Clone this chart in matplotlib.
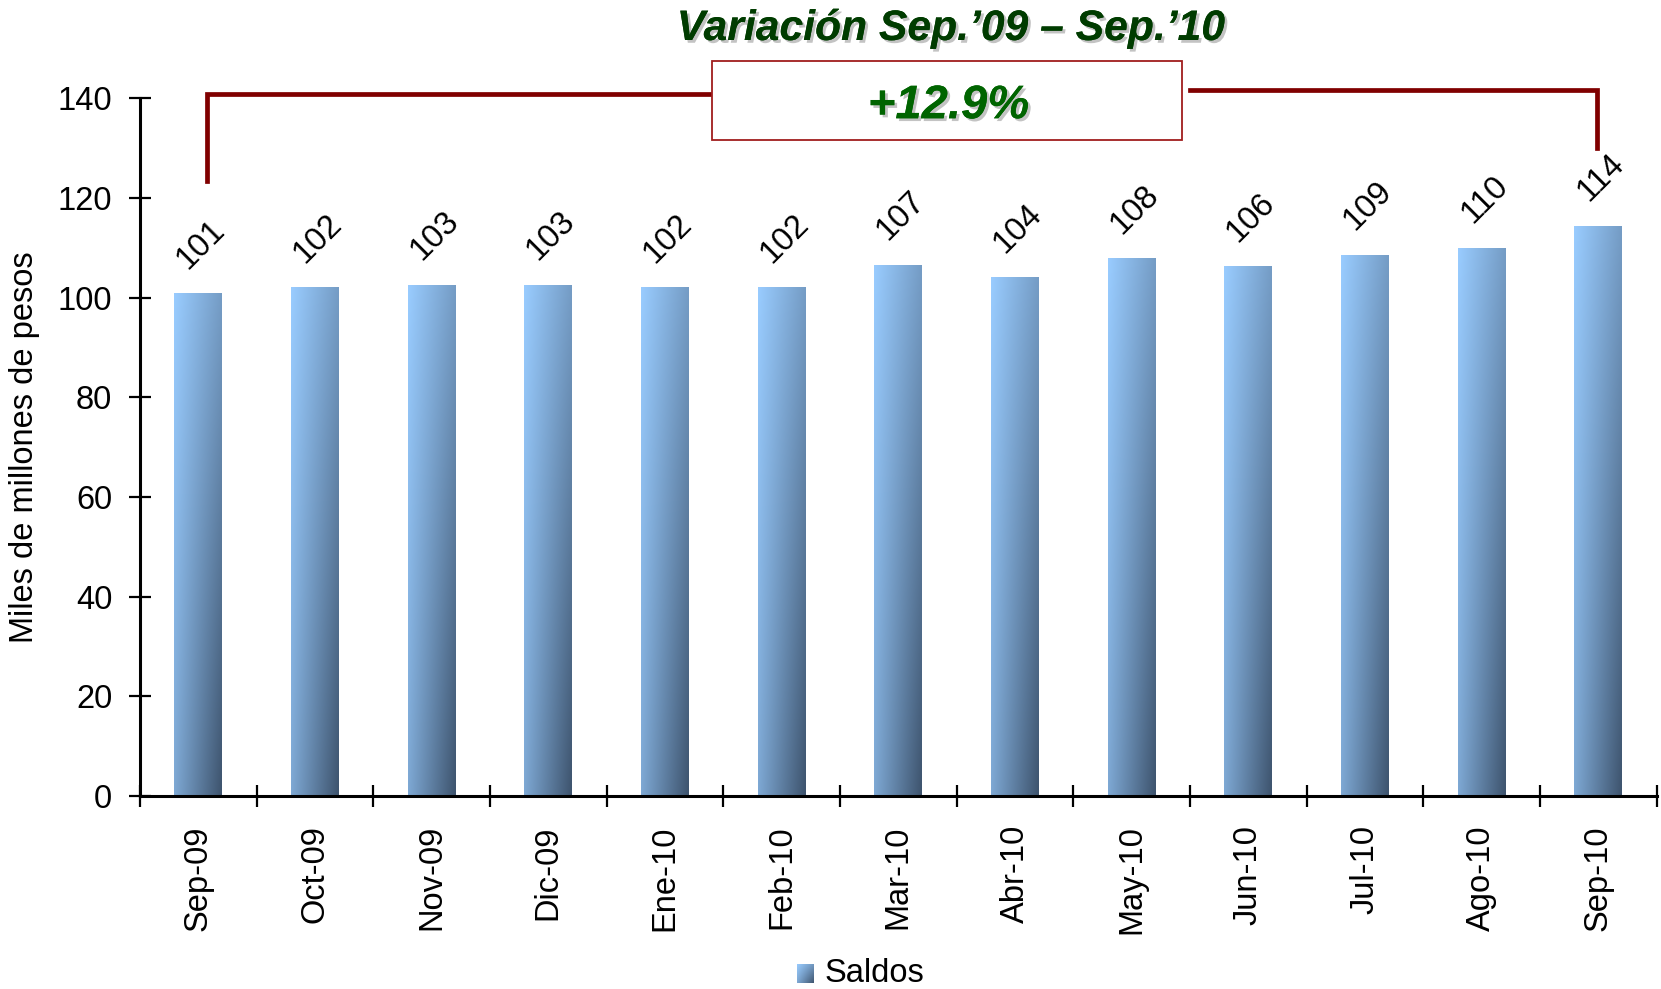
import matplotlib
matplotlib.use("Agg")
import matplotlib.pyplot as plt
import matplotlib.patheffects as pe
from matplotlib.patches import Rectangle
import numpy as np

plt.rcParams["font.family"] = ["Liberation Sans", "DejaVu Sans"]

# ------------------------------------------------------------
# Data
# ------------------------------------------------------------
months = ["Sep-09", "Oct-09", "Nov-09", "Dic-09", "Ene-10", "Feb-10", "Mar-10",
          "Abr-10", "May-10", "Jun-10", "Jul-10", "Ago-10", "Sep-10"]
saldos = [100.9, 102.1, 102.6, 102.6, 102.1, 102.1, 106.6,
          104.1, 107.9, 106.3, 108.6, 110.0, 114.4]
yticks = [0, 20, 40, 60, 80, 100, 120, 140]
title_txt = "Variación Sep.\u201909 \u2013 Sep.\u201910"
change_txt = "+12.9%"

# ------------------------------------------------------------
# Colours
# ------------------------------------------------------------
light = np.array([153, 204, 255]) / 255.0
dark = np.array([62, 84, 110]) / 255.0
red_line = "#800000"
green_dark = "#003c00"
green_txt = "#006400"

FS = 23.5


def gradient_img(n=64):
    xf = np.linspace(0, 1, n)[None, :]
    yf = np.linspace(1, 0, n)[:, None]   # row 0 = top
    t = 0.4 * xf + 0.3 * (1 - yf) + 0.3 * xf * (1 - yf)
    return light[None, None, :] * (1 - t[..., None]) + dark[None, None, :] * t[..., None]


W, H = 1661, 989
fig = plt.figure(figsize=(W / 100, H / 100), dpi=100)
ax = fig.add_axes([140 / W, 1 - 796 / H, (1656.7 - 140) / W, (796 - 98.3) / H])

x = np.arange(len(months))
bars = ax.bar(x, saldos, width=0.41, color="none", edgecolor="none")
img = gradient_img()
for b in bars:
    x0, y0 = b.get_x(), b.get_y()
    im = ax.imshow(img, extent=[x0, x0 + b.get_width(), y0, y0 + b.get_height()],
                   aspect="auto", zorder=2, interpolation="bilinear")
    im.set_clip_path(b)

for xi, v in zip(x, saldos):
    ax.annotate(f"{v:.0f}", (xi, v), xytext=(2, 35), textcoords="offset points",
                rotation=45, ha="center", va="center", fontsize=FS)

ax.set_xlim(-0.5, len(months) - 0.5)
ax.set_ylim(0, 140)
ax.set_yticks(yticks)

# boundary ticks as major, labels at category centres as minor
ax.set_xticks(np.arange(-0.5, len(months), 1.0))
ax.set_xticklabels([])
ax.set_xticks(x, minor=True)
ax.set_xticklabels(months, minor=True, rotation=90, fontsize=FS)
ax.tick_params(axis="x", which="major", direction="inout", length=16, width=1.6)
ax.tick_params(axis="x", which="minor", length=0, pad=21)
ax.tick_params(axis="y", direction="inout", length=16, width=1.6, labelsize=FS, pad=12)

for s in ["top", "right"]:
    ax.spines[s].set_visible(False)
for s in ["left", "bottom"]:
    ax.spines[s].set_linewidth(2.2)

ax.set_ylabel("Miles de millones de pesos", fontsize=FS)
ax.yaxis.set_label_coords(-0.066, 0.5)

# ------------------------------------------------------------
# Bracket and variation box
# ------------------------------------------------------------
ax.plot([0.07, 0.07, 4.40], [123.4, 140.9, 140.9], color=red_line, lw=3.4,
        clip_on=False, solid_joinstyle="miter", zorder=3)
ax.plot([8.5, 11.99, 11.99], [141.7, 141.7, 130.0], color=red_line, lw=3.4,
        clip_on=False, solid_joinstyle="miter", zorder=3)
ax.add_patch(Rectangle((4.40, 131.6), 4.03, 15.9, facecolor="white",
                       edgecolor="#a01e1e", lw=1.3, clip_on=False, zorder=4))

shadow = [pe.withSimplePatchShadow(offset=(2, -2), shadow_rgbFace="#888888", alpha=0.5),
          pe.Normal()]
ax.text(6.43, 138.4, change_txt, ha="center", va="center", fontsize=34,
        fontweight="bold", style="italic", color=green_txt, zorder=5,
        path_effects=shadow)
fig.text(951 / W, 1 - 29 / H, title_txt, ha="center", va="center", fontsize=30.7,
         fontweight="bold", style="italic", color=green_dark, path_effects=shadow)

# ------------------------------------------------------------
# Legend
# ------------------------------------------------------------
lax = fig.add_axes([797 / W, 1 - 983 / H, 17 / W, 19 / H])
lax.imshow(gradient_img(), aspect="auto", interpolation="bilinear")
lax.axis("off")
fig.text(825 / W, 1 - 973 / H, "Saldos", ha="left", va="center", fontsize=FS)

fig.savefig("out.png", dpi=100)
